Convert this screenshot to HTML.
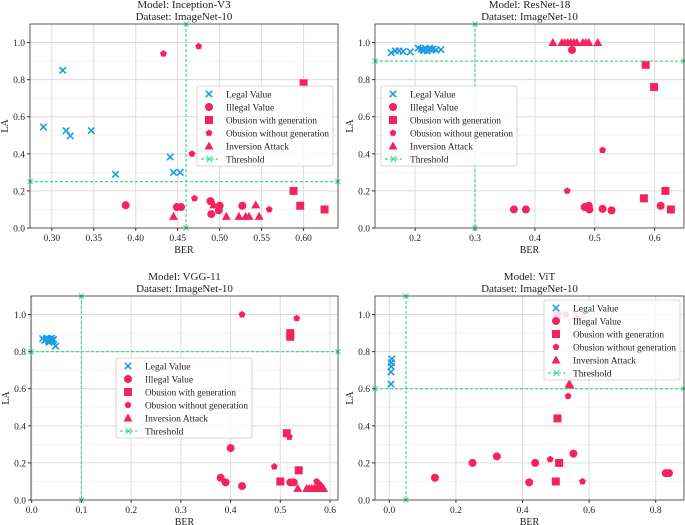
<!DOCTYPE html>
<html><head><meta charset="utf-8"><style>
body{margin:0;background:#fff;}
svg{display:block;}
svg text{font-family:"Liberation Serif","DejaVu Serif",serif;}
</style></head><body>
<svg id="c" width="685" height="525" viewBox="0 0 685 525"></svg>
<script>
// ---- data (BER, LA) ----
const p1Legal=[[0.29,0.545],[0.313,0.85],[0.317,0.525],[0.322,0.497],[0.347,0.525],[0.376,0.29],[0.441,0.383],[0.445,0.30],[0.453,0.30]];
const p1Illegal=[[0.388,0.123],[0.449,0.113],[0.454,0.113],[0.489,0.145],[0.49,0.075],[0.499,0.095],[0.5,0.12],[0.527,0.12]];
const p1Gen=[[0.6,0.78],[0.588,0.2],[0.596,0.12],[0.625,0.1]];
const p1NoGen=[[0.433,0.94],[0.475,0.98],[0.467,0.40],[0.47,0.16],[0.49,0.14],[0.559,0.1]];
const p1Inv=[[0.445,0.063],[0.493,0.125],[0.508,0.063],[0.523,0.063],[0.531,0.063],[0.535,0.063],[0.543,0.125],[0.547,0.063]];
const p1Thr=[0.46,0.25];
const p1Ticks=[0.30,0.35,0.40,0.45,0.50,0.55,0.60];

const p2Legal=[[0.16,0.945],[0.167,0.955],[0.173,0.955],[0.18,0.952],[0.192,0.95],[0.205,0.97],[0.21,0.965],[0.213,0.96],[0.217,0.97],[0.22,0.955],[0.223,0.965],[0.227,0.96],[0.23,0.965],[0.235,0.96],[0.243,0.962],[0.215,0.958],[0.225,0.968]];
const p2Illegal=[[0.462,0.96],[0.365,0.1],[0.385,0.1],[0.483,0.113],[0.488,0.11],[0.49,0.12],[0.491,0.1],[0.513,0.103],[0.528,0.095],[0.61,0.12]];
const p2Gen=[[0.585,0.88],[0.599,0.76],[0.582,0.16],[0.618,0.2],[0.627,0.1]];
const p2NoGen=[[0.513,0.42],[0.454,0.2]];
const p2Inv=[[0.43,1],[0.445,1],[0.45,1],[0.455,1],[0.46,1],[0.465,1],[0.47,1],[0.48,1],[0.485,1],[0.49,1],[0.505,1]];
const p2Thr=[0.3,0.9];
const p2Ticks=[0.2,0.3,0.4,0.5,0.6];

const p3Legal=[[0.022,0.87],[0.026,0.86],[0.029,0.865],[0.032,0.87],[0.034,0.858],[0.036,0.868],[0.038,0.862],[0.04,0.872],[0.042,0.858],[0.044,0.866],[0.03,0.872],[0.048,0.83],[0.035,0.85]];
const p3Illegal=[[0.38,0.12],[0.39,0.095],[0.40,0.28],[0.423,0.075],[0.52,0.095],[0.527,0.095],[0.578,0.08]];
const p3Gen=[[0.52,0.9],[0.52,0.88],[0.513,0.36],[0.537,0.16],[0.50,0.1]];
const p3NoGen=[[0.423,1.0],[0.533,0.98],[0.488,0.18],[0.518,0.34],[0.573,0.1]];
const p3Inv=[[0.535,0.063],[0.553,0.063],[0.558,0.063],[0.563,0.063],[0.568,0.063],[0.573,0.063],[0.578,0.063],[0.583,0.063],[0.587,0.063],[0.58,0.075]];
const p3Thr=[0.1,0.8];
const p3Ticks=[0.0,0.1,0.2,0.3,0.4,0.5,0.6];

const p4Legal=[[0.005,0.625],[0.005,0.69],[0.006,0.72],[0.006,0.74],[0.007,0.76]];
const p4Illegal=[[0.137,0.12],[0.25,0.2],[0.323,0.235],[0.42,0.095],[0.438,0.2],[0.553,0.25],[0.83,0.145],[0.84,0.145]];
const p4Gen=[[0.505,1.0],[0.505,0.44],[0.51,0.2],[0.5,0.1]];
const p4NoGen=[[0.53,1.0],[0.563,0.98],[0.537,0.56],[0.483,0.22],[0.58,0.1]];
const p4Inv=[[0.543,0.62],[0.54,0.625]];
const p4Thr=[0.05,0.6];
const p4Ticks=[0.0,0.2,0.4,0.6,0.8];

const yTicks=[0.0,0.2,0.4,0.6,0.8,1.0];

const NS="http://www.w3.org/2000/svg";
const svg=document.getElementById('c');
const BLUE="#1c9ce3",RED="#f5225c",GREEN="#3ddc84";
function mk(tag,at,parent){const e=document.createElementNS(NS,tag);for(const k in at)e.setAttribute(k,at[k]);(parent||svg).appendChild(e);return e;}

const panels=[
 {title:"Model: Inception-V3",L:30,R:338,T:24,B:228,x0:0.274,x1:0.641,xt:p1Ticks,dec:2,data:[p1Legal,p1Illegal,p1Gen,p1NoGen,p1Inv],thr:p1Thr,leg:[197,86]},
 {title:"Model: ResNet-18",L:375,R:684,T:24,B:228,x0:0.133,x1:0.649,xt:p2Ticks,dec:1,data:[p2Legal,p2Illegal,p2Gen,p2NoGen,p2Inv],thr:p2Thr,leg:[381,86]},
 {title:"Model: VGG-11",L:31,R:338,T:296,B:500,x0:-0.0014,x1:0.616,xt:p3Ticks,dec:1,data:[p3Legal,p3Illegal,p3Gen,p3NoGen,p3Inv],thr:p3Thr,leg:[116,358]},
 {title:"Model: ViT",L:375,R:684,T:296,B:500,x0:-0.043,x1:0.885,xt:p4Ticks,dec:1,data:[p4Legal,p4Illegal,p4Gen,p4NoGen,p4Inv],thr:p4Thr,leg:[544,300]}
];
const legNames=["Legal Value","Illegal Value","Obusion with generation","Obusion without generation","Inversion Attack","Threshold"];

function marker(g,kind,cx,cy,name){
 let e;
 if(kind===0){e=mk('path',{d:`M${cx-3.2},${cy-3.2}L${cx+3.2},${cy+3.2}M${cx-3.2},${cy+3.2}L${cx+3.2},${cy-3.2}`,stroke:BLUE,'stroke-width':1.6,fill:'none'},g);}
 else if(kind===1){e=mk('circle',{cx,cy,r:4,fill:RED},g);}
 else if(kind===2){e=mk('rect',{x:cx-4,y:cy-4,width:8,height:8,fill:RED},g);}
 else if(kind===3){let pts=[];for(let i=0;i<5;i++){const a=-Math.PI/2+i*2*Math.PI/5;pts.push((cx+3.6*Math.cos(a)).toFixed(1)+','+(cy+3.6*Math.sin(a)).toFixed(1));}e=mk('polygon',{points:pts.join(' '),fill:RED},g);}
 else {e=mk('polygon',{points:`${cx},${cy-4.5} ${cx+4.5},${cy+3.5} ${cx-4.5},${cy+3.5}`,fill:RED},g);}
 
 
 return e;
}
const kindNames=["legal-value-point","illegal-value-point","obusion-with-generation-point","obusion-without-generation-point","inversion-attack-point"];

panels.forEach((p,pi)=>{
 const g=mk('g',{});
 
 
 const sx=v=>p.L+(v-p.x0)/(p.x1-p.x0)*(p.R-p.L);
 const sy=v=>p.B-v/1.1*(p.B-p.T);
 const cx=(p.L+p.R)/2;
 const t1=mk('text',{x:cx,y:p.T-16,'text-anchor':'middle','font-size':11,fill:'#222'},g);t1.textContent=p.title;
 
 const t2=mk('text',{x:cx,y:p.T-4,'text-anchor':'middle','font-size':11,fill:'#222'},g);t2.textContent="Dataset: ImageNet-10";
 
 for(let v=0.1;v<1.1;v+=0.2){mk('line',{x1:p.L,x2:p.R,y1:sy(v),y2:sy(v),stroke:'#f0f0f0','stroke-width':0.8},g);}
 yTicks.forEach(v=>{
  mk('line',{x1:p.L,x2:p.R,y1:sy(v),y2:sy(v),stroke:'#dcdcdc','stroke-width':1},g);
  mk('line',{x1:p.L-3,x2:p.L,y1:sy(v),y2:sy(v),stroke:'#333'},g);
  const t=mk('text',{x:p.L-5,y:sy(v)+3.5,'text-anchor':'end','font-size':9.5,fill:'#222'},g);t.textContent=v.toFixed(1);
  
 });
 p.xt.forEach(v=>{
  mk('line',{x1:sx(v),x2:sx(v),y1:p.T,y2:p.B,stroke:'#dcdcdc','stroke-width':1},g);
  mk('line',{x1:sx(v),x2:sx(v),y1:p.B,y2:p.B+3,stroke:'#333'},g);
  const t=mk('text',{x:sx(v),y:p.B+13,'text-anchor':'middle','font-size':9.5,fill:'#222'},g);t.textContent=v.toFixed(p.dec);
  
 });
 const xl=mk('text',{x:cx,y:p.B+25,'text-anchor':'middle','font-size':10,fill:'#222'},g);xl.textContent="BER";
 
 const yl=mk('text',{x:0,y:0,'text-anchor':'middle','font-size':10,fill:'#222',transform:`translate(${p.L-22},${(p.T+p.B)/2}) rotate(-90)`},g);yl.textContent="LA";
 
 p.data.forEach((arr,k)=>arr.forEach(d=>marker(g,k,sx(d[0]),sy(d[1]),kindNames[k])));
 const tv=mk('line',{x1:sx(p.thr[0]),x2:sx(p.thr[0]),y1:p.T,y2:p.B,stroke:GREEN,'stroke-width':1.2,'stroke-dasharray':'3,2'},g);
 
 const th=mk('line',{x1:p.L,x2:p.R,y1:sy(p.thr[1]),y2:sy(p.thr[1]),stroke:GREEN,'stroke-width':1.2,'stroke-dasharray':'3,2'},g);
 
 [[sx(p.thr[0]),p.T],[sx(p.thr[0]),p.B],[p.L,sy(p.thr[1])],[p.R,sy(p.thr[1])]].forEach(q=>{
  mk('path',{d:`M${q[0]-2.5},${q[1]-2.5}L${q[0]+2.5},${q[1]+2.5}M${q[0]-2.5},${q[1]+2.5}L${q[0]+2.5},${q[1]-2.5}`,stroke:GREEN,'stroke-width':1},g);
 });
 mk('rect',{x:p.L,y:p.T,width:p.R-p.L,height:p.B-p.T,fill:'none',stroke:'#333','stroke-width':0.8},g);
 const lg=mk('g',{},g);
 
 const lx=p.leg[0],ly=p.leg[1];
 mk('rect',{x:lx,y:ly,width:136,height:80,rx:2,fill:'rgba(255,255,255,0.85)',stroke:'#ccc','stroke-width':0.8},lg);
 legNames.forEach((n,i)=>{
  const yy=ly+8+i*13;
  if(i<5){marker(lg,i,lx+12,yy,'legend-marker');}
  else{mk('line',{x1:lx+4,x2:lx+21,y1:yy,y2:yy,stroke:GREEN,'stroke-width':1.2,'stroke-dasharray':'3,2'},lg);
   mk('path',{d:`M${lx+9.5},${yy-3}L${lx+15.5},${yy+3}M${lx+9.5},${yy+3}L${lx+15.5},${yy-3}`,stroke:GREEN,'stroke-width':1},lg);}
  const t=mk('text',{x:lx+29,y:yy+3.5,'font-size':9.5,fill:'#222'},lg);t.textContent=n;
  if(n.length>20){t.setAttribute('textLength',Math.round(n.length*3.95));t.setAttribute('lengthAdjust','spacingAndGlyphs');}
  
 });
});
</script>
</body></html>
